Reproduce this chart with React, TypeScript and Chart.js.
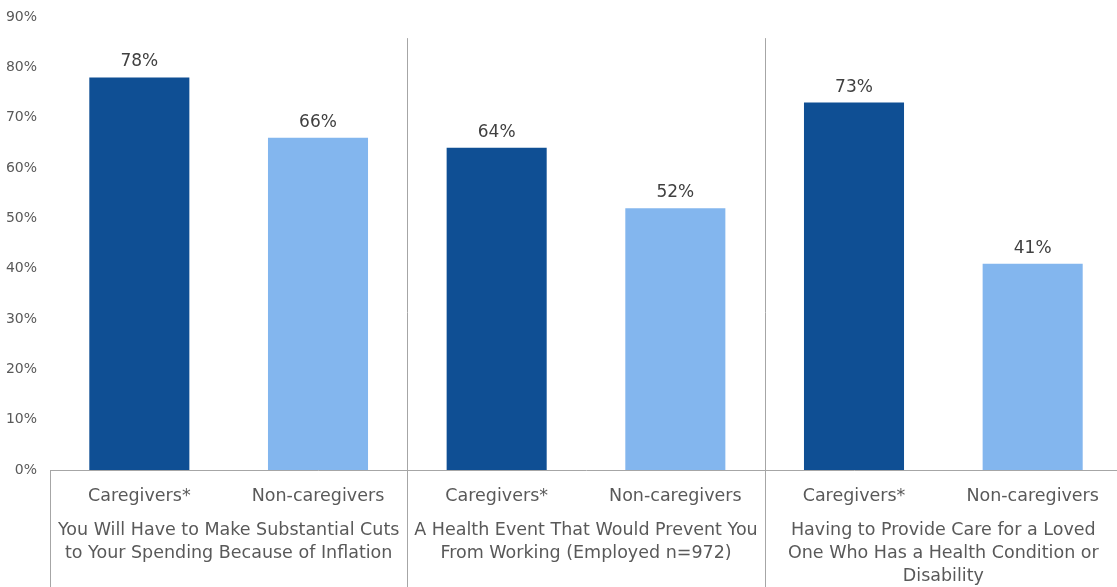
import React, { useEffect, useRef } from "react";
import { Chart, registerables } from "chart.js";

Chart.register(...registerables);

const categories = ["Caregivers*", "Non-caregivers", "Caregivers*", "Non-caregivers", "Caregivers*", "Non-caregivers"];
const groupLabels = [
  ["You Will Have to Make Substantial Cuts", "to Your Spending Because of Inflation"],
  ["A Health Event That Would Prevent You", "From Working (Employed n=972)"],
  ["Having to Provide Care for a Loved", "One Who Has a Health Condition or", "Disability"],
];
const values = [78, 66, 64, 52, 73, 41];
const barColors = ["#0F4F94", "#83B6EE", "#0F4F94", "#83B6EE", "#0F4F94", "#83B6EE"];
const yMax = 90;
const yStep = 10;
const separatorTopValue = 85.8;

const FONT = "'DejaVu Sans', sans-serif";
const GRAY_LINE = "#A6A6A6";
const TEXT = "#595959";
const LABEL_TEXT = "#404040";

const overlayPlugin = {
  id: "overlay",
  afterDatasetsDraw(chart: any) {
    const ctx = chart.ctx;
    const meta = chart.getDatasetMeta(0);
    ctx.save();
    ctx.font = `17px ${FONT}`;
    ctx.fillStyle = LABEL_TEXT;
    ctx.textAlign = "center";
    ctx.textBaseline = "alphabetic";
    meta.data.forEach((el: any, i: number) => {
      ctx.fillText(`${values[i]}%`, el.x, el.y - 11);
    });
    ctx.restore();
  },
  afterDraw(chart: any) {
    const ctx = chart.ctx;
    const xs = chart.scales.x;
    const ys = chart.scales.y;
    const area = chart.chartArea;
    const H = chart.height;
    ctx.save();
    ctx.strokeStyle = GRAY_LINE;
    ctx.lineWidth = 1;
    ctx.beginPath();
    ctx.moveTo(Math.round(area.left) + 0.5, area.bottom);
    ctx.lineTo(Math.round(area.left) + 0.5, H);
    ctx.stroke();
    const topY = ys.getPixelForValue(separatorTopValue);
    for (let g = 1; g < groupLabels.length; g++) {
      const a = xs.getPixelForValue(g * 2 - 1);
      const b = xs.getPixelForValue(g * 2);
      const sx = Math.round((a + b) / 2) + 0.5;
      ctx.beginPath();
      ctx.moveTo(sx, topY);
      ctx.lineTo(sx, H);
      ctx.stroke();
    }
    ctx.fillStyle = TEXT;
    ctx.textAlign = "center";
    ctx.textBaseline = "middle";
    ctx.font = `17.5px ${FONT}`;
    categories.forEach((c, i) => {
      ctx.fillText(c, xs.getPixelForValue(i), area.bottom + 26);
    });
    groupLabels.forEach((lines, g) => {
      const cx = (xs.getPixelForValue(g * 2) + xs.getPixelForValue(g * 2 + 1)) / 2;
      lines.forEach((ln, k) => {
        ctx.fillText(ln, cx, area.bottom + 60 + k * 23);
      });
    });
    ctx.restore();
  },
};

export default function App() {
  const ref = useRef<HTMLCanvasElement | null>(null);
  useEffect(() => {
    if (!ref.current) return;
    const chart = new Chart(ref.current, {
      type: "bar",
      data: {
        labels: categories,
        datasets: [
          {
            data: values,
            backgroundColor: barColors,
            categoryPercentage: 1,
            barPercentage: 0.56,
          },
        ],
      },
      options: {
        animation: false,
        responsive: true,
        maintainAspectRatio: false,
        layout: { padding: { top: 17, right: 0, bottom: 117, left: 0 } },
        plugins: { legend: { display: false }, tooltip: { enabled: false } },
        scales: {
          x: {
            grid: { display: false, drawTicks: false },
            border: { display: true, color: GRAY_LINE, width: 1 },
            ticks: { display: false },
          },
          y: {
            min: 0,
            max: yMax,
            grid: { display: false, drawTicks: false },
            border: { display: false },
            afterFit: (s: any) => {
              s.width = 50;
              s.paddingTop = 0;
              s.paddingBottom = 0;
            },
            ticks: {
              stepSize: yStep,
              padding: 13,
              color: TEXT,
              font: { family: FONT, size: 14 },
              callback: (v: any) => `${v}%`,
            },
          },
        },
      },
      plugins: [overlayPlugin],
    });
    return () => chart.destroy();
  }, []);
  return (
    <div style={{ position: "fixed", left: 0, top: 0, width: 1122, height: 587, background: "#fff" }}>
      <canvas ref={ref} />
    </div>
  );
}
